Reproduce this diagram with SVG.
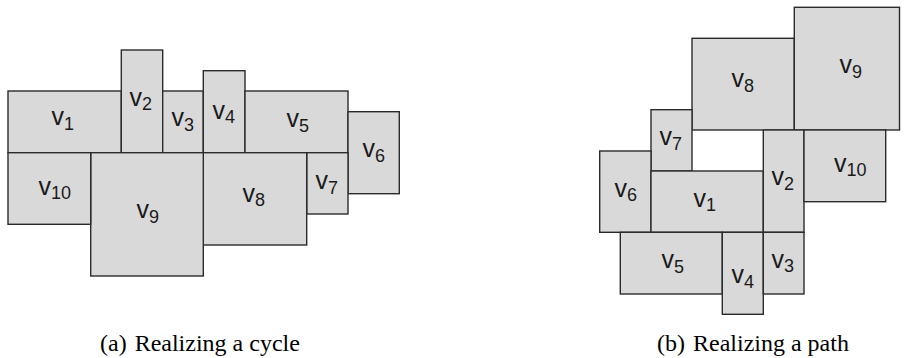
<svg xmlns="http://www.w3.org/2000/svg" width="910" height="358" viewBox="0 0 910 358">
<style>
rect{fill:#d9d9d9;stroke:#2b2b2b;stroke-width:1.4}
.l{font-family:"Liberation Sans",Arial,sans-serif;font-size:25px;fill:#1a1a1a}
.s{font-size:18px}
.c{font-family:"Liberation Serif","Times New Roman",serif;font-size:24px;fill:#000}
</style>
<rect x="0" y="0" width="910" height="358" style="fill:#fff;stroke:none"/>
<g id="a">
<g id="a-v1"><rect x="8" y="91" width="113.3" height="61.7"/><text class="l" x="51.5" y="125">v<tspan class="s" dy="4.5">1</tspan></text></g>
<g id="a-v2"><rect x="121.3" y="50" width="41.4" height="102.7"/><text class="l" x="129.5" y="105.5">v<tspan class="s" dy="4.5">2</tspan></text></g>
<g id="a-v3"><rect x="162.7" y="91" width="40.6" height="61.7"/><text class="l" x="171.5" y="126">v<tspan class="s" dy="4.5">3</tspan></text></g>
<g id="a-v4"><rect x="203.3" y="70.7" width="41.7" height="82"/><text class="l" x="212.5" y="118.5">v<tspan class="s" dy="4.5">4</tspan></text></g>
<g id="a-v5"><rect x="245" y="91" width="103" height="61.7"/><text class="l" x="286.5" y="127">v<tspan class="s" dy="4.5">5</tspan></text></g>
<g id="a-v6"><rect x="348" y="111.7" width="51.3" height="82"/><text class="l" x="362.5" y="157">v<tspan class="s" dy="4.5">6</tspan></text></g>
<g id="a-v7"><rect x="306.7" y="152.7" width="41.3" height="61.3"/><text class="l" x="315.5" y="189">v<tspan class="s" dy="4.5">7</tspan></text></g>
<g id="a-v8"><rect x="203.3" y="152.7" width="103.4" height="92.3"/><text class="l" x="242.5" y="201.5">v<tspan class="s" dy="4.5">8</tspan></text></g>
<g id="a-v9"><rect x="90.7" y="152.7" width="112.6" height="123.3"/><text class="l" x="136.5" y="218">v<tspan class="s" dy="4.5">9</tspan></text></g>
<g id="a-v10"><rect x="8" y="152.7" width="82.7" height="71.6"/><text class="l" x="38.5" y="194.5">v<tspan class="s" dy="4">10</tspan></text></g>
</g>
<g id="b">
<g id="b-v8"><rect x="692" y="38.3" width="102.3" height="91.7"/><text class="l" x="731.5" y="87">v<tspan class="s" dy="4.5">8</tspan></text></g>
<g id="b-v9"><rect x="794.3" y="7.3" width="105.2" height="122.7"/><text class="l" x="839.5" y="73">v<tspan class="s" dy="4.5">9</tspan></text></g>
<g id="b-v7"><rect x="651" y="109.7" width="41" height="61.3"/><text class="l" x="659.5" y="145">v<tspan class="s" dy="4.5">7</tspan></text></g>
<g id="b-v6"><rect x="599.7" y="151" width="51.3" height="81.3"/><text class="l" x="614.5" y="196.5">v<tspan class="s" dy="4.5">6</tspan></text></g>
<g id="b-v1"><rect x="651" y="171" width="112.3" height="61.3"/><text class="l" x="693.5" y="206.5">v<tspan class="s" dy="4.5">1</tspan></text></g>
<g id="b-v2"><rect x="763.3" y="130" width="40.7" height="102.3"/><text class="l" x="771.5" y="185">v<tspan class="s" dy="4.5">2</tspan></text></g>
<g id="b-v10"><rect x="804" y="130" width="81.7" height="71.7"/><text class="l" x="834" y="172.3">v<tspan class="s" dy="3.5">10</tspan></text></g>
<g id="b-v5"><rect x="620.3" y="232.3" width="102" height="61.7"/><text class="l" x="661.5" y="268">v<tspan class="s" dy="4.5">5</tspan></text></g>
<g id="b-v4"><rect x="722.3" y="232.3" width="41" height="82"/><text class="l" x="731.5" y="283">v<tspan class="s" dy="4.5">4</tspan></text></g>
<g id="b-v3"><rect x="763.3" y="232.3" width="40.7" height="61.7"/><text class="l" x="771.5" y="267.5">v<tspan class="s" dy="4.5">3</tspan></text></g>
</g>
<g id="connectors"/>
<text class="c" x="100" y="351">(a)<tspan dx="8">Realizing a cycle</tspan></text>
<text class="c" x="657" y="351">(b)<tspan dx="8">Realizing a path</tspan></text>
</svg>
